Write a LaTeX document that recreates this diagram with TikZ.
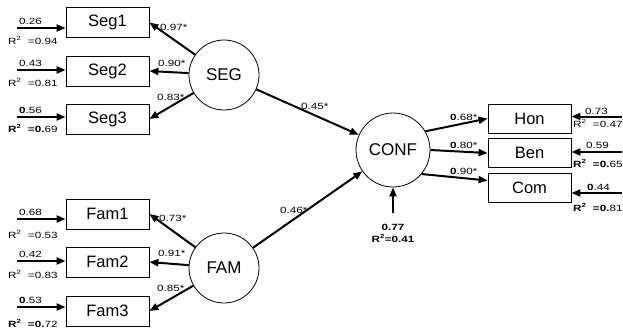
\documentclass[tikz,border=0pt]{standalone}
\usepackage{fontspec}
\setmainfont{Liberation Sans}
\newfontfamily\numfont[FakeStretch=1.3]{Liberation Sans}
\usetikzlibrary{arrows.meta}

\tikzstyle{latent} = [draw,circle,line width=0.8pt,minimum size=70pt,inner sep=0pt,font=\fontsize{17}{17}\selectfont]
\tikzstyle{observed} = [draw,rectangle,line width=0.8pt,minimum width=83pt,minimum height=30pt,inner sep=0pt,font=\fontsize{16.5}{16.5}\selectfont]
\tikzstyle{line} = [draw,-{Triangle[length=9pt,width=7pt]},line width=2pt]
\tikzstyle{coef} = [anchor=base west,inner sep=0pt,font=\numfont\fontsize{9}{9}\selectfont]

\begin{document}
\begin{tikzpicture}[x=1pt,y=-1pt]
\useasboundingbox (0,0) rectangle (623,330);
% latent variables
\node[latent] (SEG) at (224,75) {SEG};
\node[latent] (FAM) at (224,268) {FAM};
\node[latent,minimum size=74pt] (CONF) at (393,150) {CONF};
% indicators
\node[observed] (Seg1) at (107.5,22.5) {Seg1};
\node[observed] (Seg2) at (107.5,71) {Seg2};
\node[observed] (Seg3) at (107.5,119) {Seg3};
\node[observed] (Fam1) at (107.5,214) {Fam1};
\node[observed] (Fam2) at (107.5,262) {Fam2};
\node[observed] (Fam3) at (107.5,311) {Fam3};
\node[observed,minimum height=29pt] (Hon) at (529.5,118.5) {Hon};
\node[observed,minimum height=29pt] (Ben) at (529.5,153) {Ben};
\node[observed,minimum height=29pt] (Com) at (529.5,187.5) {Com};
% error terms
\coordinate (eSeg1) at (17,28);
\coordinate (eSeg2) at (17,70);
\coordinate (eSeg3) at (17,117);
\coordinate (eFam1) at (17,219);
\coordinate (eFam2) at (17,261);
\coordinate (eFam3) at (17,307);
\coordinate (eHon) at (622,116.5);
\coordinate (eBen) at (622,152);
\coordinate (eCom) at (622,193);
\coordinate (eCONF) at (393,213);
\path[line] (eSeg1) -- (eSeg1 -| Seg1.west);
\path[line] (eSeg2) -- (eSeg2 -| Seg2.west);
\path[line] (eSeg3) -- (eSeg3 -| Seg3.west);
\path[line] (eFam1) -- (eFam1 -| Fam1.west);
\path[line] (eFam2) -- (eFam2 -| Fam2.west);
\path[line] (eFam3) -- (eFam3 -| Fam3.west);
\path[line] (eHon) -- (eHon -| Hon.east);
\path[line] (eBen) -- (eBen -| Ben.east);
\path[line] (eCom) -- (eCom -| Com.east);
\path[line] (eCONF) -- (CONF.south);
% loadings and paths
\path[line] (SEG) -- (Seg1.east);
\path[line] (SEG) -- (Seg2.east);
\path[line] (SEG) -- (Seg3.east);
\path[line] (FAM) -- (Fam1.east);
\path[line] (FAM) -- (Fam2.east);
\path[line] (FAM) -- (Fam3.east);
\path[line] (SEG) -- (CONF);
\path[line] (FAM) -- (CONF);
\path[line] (CONF.30) -- (Hon.west);
\path[line] (CONF.east) -- (Ben.west);
\path[line] (CONF.-40) -- ([yshift=7pt]Com.west);
% coefficients
\node[coef] (lSeg1) at (160,30) {0.97*};
\node[coef] (lSeg2) at (158,66) {0.90*};
\node[coef] (lSeg3) at (157,100) {0.83*};
\node[coef] (lFam1) at (159,221) {0.73*};
\node[coef] (lFam2) at (158,256) {0.91*};
\node[coef] (lFam3) at (157,291) {0.85*};
\node[coef] (lSEG) at (301,109) {0.45*};
\node[coef] (lFAM) at (280,213) {0.46*};
\node[coef] (lHon) at (450,120) {\textbf{0}.68*};
\node[coef] (lBen) at (450,148.5) {\textbf{0}.80*};
\node[coef] (lCom) at (450,174) {\textbf{0}.90*};
% residuals
\node[coef] (vSeg1) at (19,24.5) {0.26};
\node[coef] (rSeg1) at (8,44.5) {R\textsuperscript{2}\ \ =0.94};
\node[coef] (vSeg2) at (19,66) {0.43};
\node[coef] (rSeg2) at (8,86) {R\textsuperscript{2}\ \ =0.81};
\node[coef] (vSeg3) at (19,113) {\textbf{0}.56};
\node[coef] (rSeg3) at (8,132) {\textbf{R\textsuperscript{2}\ \ =0.}69};
\node[coef] (vFam1) at (19,215) {0.68};
\node[coef] (rFam1) at (8,238) {R\textsuperscript{2}\ \ =0.53};
\node[coef] (vFam2) at (19,257) {0.42};
\node[coef] (rFam2) at (8,278) {R\textsuperscript{2}\ \ =0.83};
\node[coef] (vFam3) at (19,303) {\textbf{0}.53};
\node[coef] (rFam3) at (8,327) {\textbf{R\textsuperscript{2}\ \ =0.}72};
\node[coef] (vHon) at (585,114) {0.73};
\node[coef] (rHon) at (573,127) {R\textsuperscript{2}\ \ =0.47};
\node[coef] (vBen) at (586,148.5) {0.59};
\node[coef] (rBen) at (573,167) {\textbf{R\textsuperscript{2}\ \ =0.}65};
\node[coef] (vCom) at (587,190) {\textbf{0}.44};
\node[coef] (rCom) at (573,211) {\textbf{R\textsuperscript{2}\ \ =0.}81};
\node[coef,anchor=base] (vCONF) at (393,230) {\textbf{0.77}};
\node[coef,anchor=base] (rCONF) at (393,242) {\textbf{R\textsuperscript{2}=0.41}};
\end{tikzpicture}
\end{document}
